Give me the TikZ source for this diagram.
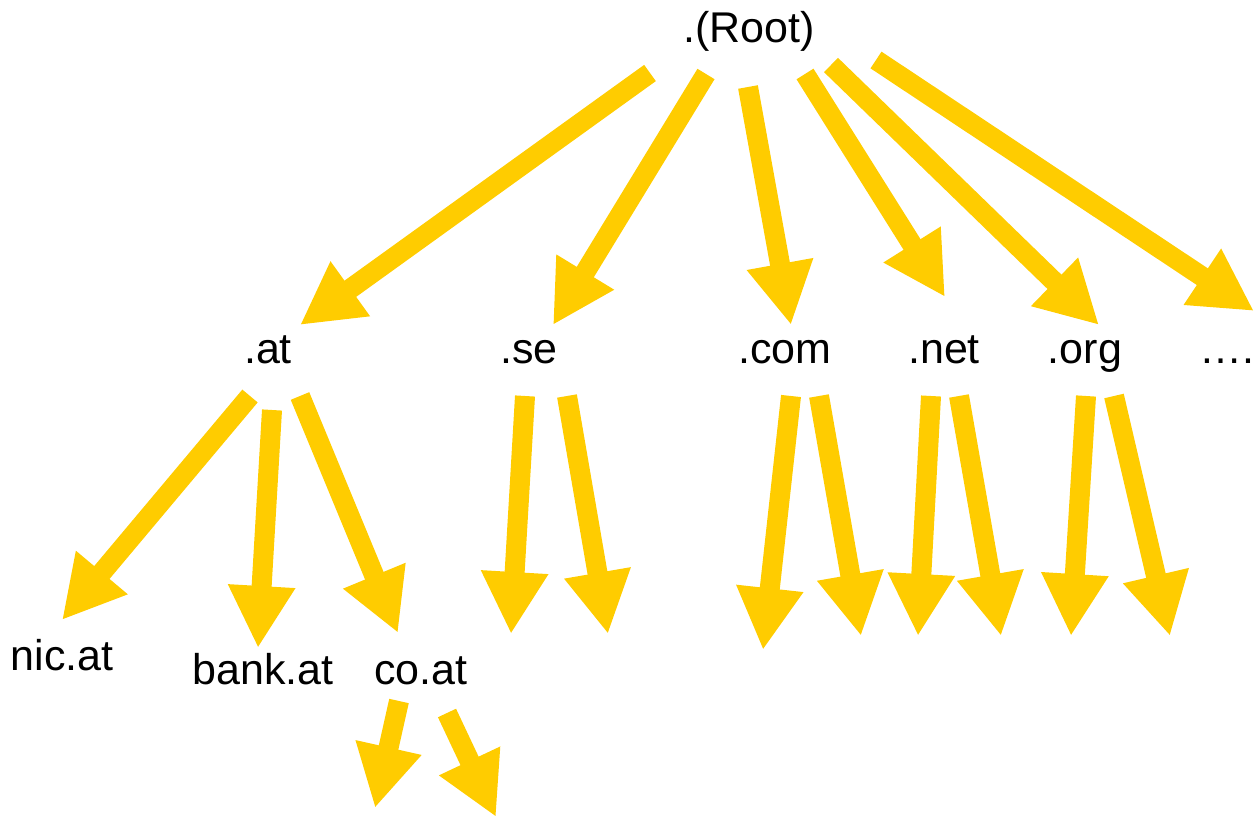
\documentclass[tikz,border=0pt]{standalone}
\usepackage{fontspec}
\setmainfont{Liberation Sans}
\usetikzlibrary{arrows.meta}
\definecolor{domgold}{HTML}{FFCC00}
\tikzset{
  lbl/.style={inner sep=0pt, anchor=base, font=\fontsize{43pt}{50pt}\selectfont},
  blockarrow/.style={draw=domgold, line width=20pt, line cap=butt,
    -{Triangle[width=63pt,length=62pt]}}
}
\begin{document}
\begin{tikzpicture}[x=1pt,y=-1pt]
\useasboundingbox (0,0) rectangle (1259,818);

% domain labels
\node[lbl] (root) at (749,43) {.(Root)};
\node[lbl] (at)   at (268,364) {.at};
\node[lbl] (se)   at (529,364) {.se};
\node[lbl] (com)  at (785,364) {.com};
\node[lbl] (net)  at (944,364) {.net};
\node[lbl] (org)  at (1085,364) {.org};
\node[lbl, anchor=base west] (more) at (1199,364) {….};
\node[lbl] (nic)  at (62,670) {nic.at};
\node[lbl] (bank) at (263,684) {bank.at};
\node[lbl] (coat) at (421,684) {co.at};

% arrow tails and tips
\coordinate (r1s) at (650,73);  \coordinate (r1e) at (300,325);
\coordinate (r2s) at (706,74);  \coordinate (r2e) at (553,325);
\coordinate (r3s) at (748,87);  \coordinate (r3e) at (791,325);
\coordinate (r4s) at (805,74);  \coordinate (r4e) at (945,297);
\coordinate (r5s) at (831,65);  \coordinate (r5e) at (1099,325);
\coordinate (r6s) at (876,60);  \coordinate (r6e) at (1254,311);

\coordinate (a1s) at (250,396); \coordinate (a1e) at (62,620);
\coordinate (a2s) at (272,410); \coordinate (a2e) at (258,648);
\coordinate (a3s) at (300,396); \coordinate (a3e) at (398,633);

\coordinate (s1s) at (525,396); \coordinate (s1e) at (511,634);
\coordinate (s2s) at (567,396); \coordinate (s2e) at (608,634);

\coordinate (c1s) at (791,396); \coordinate (c1e) at (763,650);
\coordinate (c2s) at (819,396); \coordinate (c2e) at (861,636);

\coordinate (n1s) at (931,396); \coordinate (n1e) at (918,636);
\coordinate (n2s) at (959,396); \coordinate (n2e) at (1001,636);

\coordinate (o1s) at (1086,396); \coordinate (o1e) at (1071,636);
\coordinate (o2s) at (1114,396); \coordinate (o2e) at (1170,636);

\coordinate (k1s) at (399,701); \coordinate (k1e) at (375,808);
\coordinate (k2s) at (447,713); \coordinate (k2e) at (496,817);

% root level
\foreach \a in {r1,r2,r3,r4,r5,r6}
  \draw[blockarrow] (\a s) -- (\a e);
% second level
\foreach \a in {a1,a2,a3,s1,s2,c1,c2,n1,n2,o1,o2}
  \draw[blockarrow] (\a s) -- (\a e);
% below co.at
\foreach \a in {k1,k2}
  \draw[blockarrow] (\a s) -- (\a e);
\end{tikzpicture}
\end{document}
